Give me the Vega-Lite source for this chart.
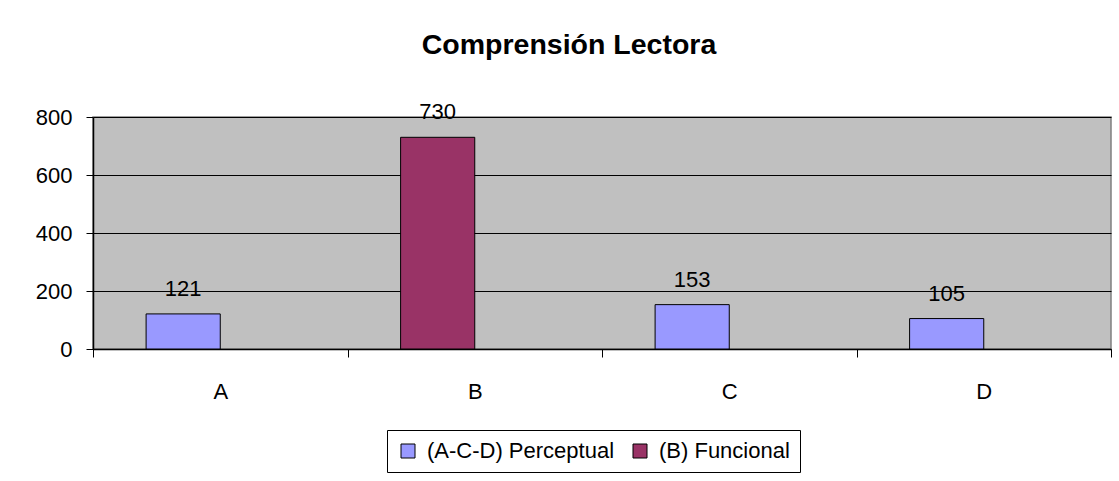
{
  "$schema": "https://vega.github.io/schema/vega-lite/v6.json",
  "width": 1018,
  "height": 232,
  "autosize": {"type": "none"},
  "padding": {"left": 93, "top": 117, "right": 8, "bottom": 132},
  "background": "white",
  "title": {
    "text": "Comprensión Lectora",
    "font": "Liberation Sans",
    "fontSize": 28.5,
    "fontWeight": "bold",
    "color": "black",
    "anchor": "middle",
    "dx": -33,
    "offset": 42
  },
  "config": {
    "font": "Liberation Sans",
    "view": {"fill": "#C0C0C0", "stroke": "#808080", "strokeWidth": 1.5}
  },
  "data": {
    "values": [
      {"cat": "A", "serie": "(A-C-D) Perceptual", "value": 121},
      {"cat": "B", "serie": "(B) Funcional", "value": 730},
      {"cat": "C", "serie": "(A-C-D) Perceptual", "value": 153},
      {"cat": "D", "serie": "(A-C-D) Perceptual", "value": 105}
    ]
  },
  "encoding": {
    "x": {
      "field": "cat",
      "type": "nominal",
      "scale": {"paddingInner": 0, "paddingOuter": 0},
      "axis": {
        "title": null,
        "labelAngle": 0,
        "labelFontSize": 22,
        "labelColor": "black",
        "labelPadding": 24,
        "tickBand": "extent",
        "tickSize": 8,
        "tickColor": "black",
        "domainColor": "black",
        "domainWidth": 1.5,
        "grid": false
      }
    },
    "xOffset": {
      "datum": "slot1",
      "scale": {"domain": ["slot1", "slot2"], "paddingInner": 0, "paddingOuter": 0.716}
    },
    "y": {
      "field": "value",
      "type": "quantitative",
      "scale": {"domain": [0, 800]},
      "axis": {
        "title": null,
        "values": [0, 200, 400, 600, 800],
        "labelFontSize": 22,
        "labelColor": "black",
        "labelPadding": 14,
        "tickSize": 7,
        "tickColor": "black",
        "domainColor": "black",
        "domainWidth": 1.5,
        "gridColor": "black",
        "gridWidth": 1.2
      }
    }
  },
  "layer": [
    {
      "mark": {"type": "bar", "stroke": "black", "strokeWidth": 1},
      "encoding": {
        "color": {
          "field": "serie",
          "type": "nominal",
          "scale": {"domain": ["(A-C-D) Perceptual", "(B) Funcional"], "range": ["#9999FF", "#993366"]},
          "legend": {
            "orient": "none",
            "legendX": 294,
            "legendY": 313,
            "direction": "horizontal",
            "title": null,
            "strokeColor": "black",
            "padding": 10,
            "symbolType": "square",
            "symbolSize": 196,
            "symbolStrokeColor": "black",
            "symbolStrokeWidth": 1,
            "labelFontSize": 22,
            "labelLimit": 0,
            "labelColor": "black",
            "labelOffset": 8,
            "columnPadding": 14,
            "fillColor": "white"
          }
        }
      }
    },
    {
      "mark": {"type": "text", "baseline": "alphabetic", "dy": -18, "fontSize": 22, "color": "black"},
      "encoding": {"text": {"field": "value", "type": "quantitative"}}
    }
  ]
}
